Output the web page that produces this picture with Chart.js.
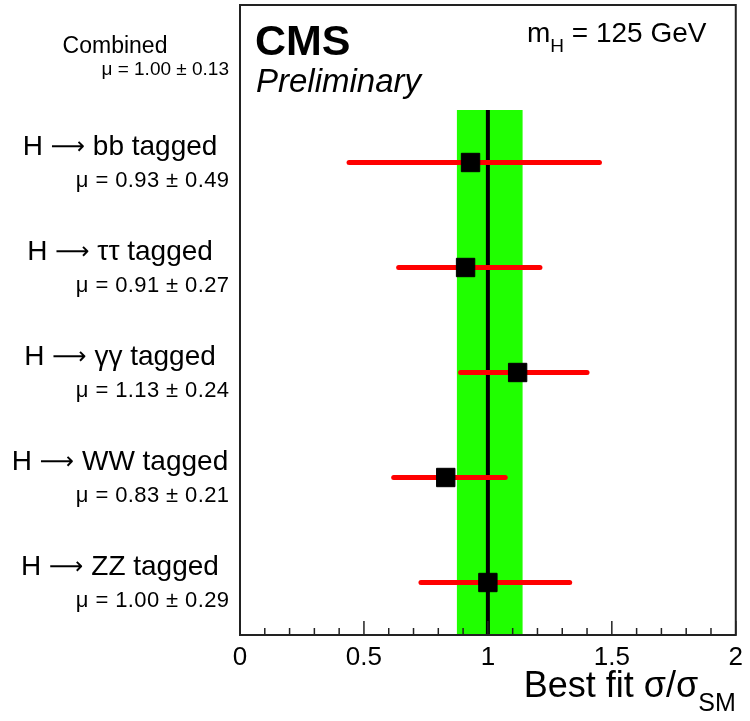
<!DOCTYPE html>
<html>
<head>
<meta charset="utf-8">
<script src="https://cdn.jsdelivr.net/npm/chart.js@4"></script>
<style>
  html, body { margin: 0; padding: 0; background: #fff; }
  #wrap { width: 750px; height: 721px; }
</style>
</head>
<body>
<div id="wrap"><canvas id="chart" width="750" height="721"></canvas></div>
<script>
// channels, top to bottom
const channels = ['bb', '\u03c4\u03c4', '\u03b3\u03b3', 'WW', 'ZZ'];
const muLabels = ['\u03bc = 0.93 \u00b1 0.49', '\u03bc = 0.91 \u00b1 0.27', '\u03bc = 1.13 \u00b1 0.24', '\u03bc = 0.83 \u00b1 0.21', '\u03bc = 1.00 \u00b1 0.29'];
const bestFit = [0.93, 0.91, 1.12, 0.83, 1.00];
const errLo = [0.44, 0.64, 0.89, 0.62, 0.73];
const errHi = [1.45, 1.21, 1.40, 1.07, 1.33];

// combined result (green band)
const combinedLabel = 'Combined';
const combinedMu = '\u03bc = 1.00 \u00b1 0.13';
const combinedValue = 1.00;
const combinedLo = 0.875;
const combinedHi = 1.14;

const xTickLabels = ['0', '0.5', '1', '1.5', '2'];

const FONT = "'Liberation Sans', Arial, Helvetica, sans-serif";
const ARROW_FONT = "'DejaVu Sans', sans-serif";
const nRows = channels.length + 1;

function rowY(i) {
    return channels.length - i - 0.5;
}

// pieces: [text, size, dy, style, family]
function piecesWidth(ctx, pieces) {
    let w = 0;
    pieces.forEach(p => {
        ctx.font = (p[3] || '') + ' ' + p[1] + 'px ' + (p[4] || FONT);
        w += ctx.measureText(p[0]).width;
    });
    return w;
}

function drawPieces(ctx, x, y, pieces) {
    let cx = x;
    pieces.forEach(p => {
        ctx.font = (p[3] || '') + ' ' + p[1] + 'px ' + (p[4] || FONT);
        ctx.fillText(p[0], cx, y + (p[2] || 0));
        cx += ctx.measureText(p[0]).width;
    });
    return cx;
}

const cmsPlugin = {
    id: 'cms',
    beforeDatasetsDraw(chart) {
        const ctx = chart.ctx;
        const xs = chart.scales.x;
        const ys = chart.scales.y;
        ctx.save();
        // combined band
        ctx.fillStyle = '#20ff00';
        const bx0 = xs.getPixelForValue(combinedLo);
        const bx1 = xs.getPixelForValue(combinedHi);
        const by0 = ys.getPixelForValue(nRows - 1);
        const by1 = ys.getPixelForValue(0);
        ctx.fillRect(bx0, by0, bx1 - bx0, by1 - by0);
        // SM line
        ctx.strokeStyle = '#000';
        ctx.lineWidth = 4;
        ctx.beginPath();
        ctx.moveTo(xs.getPixelForValue(combinedValue), by0);
        ctx.lineTo(xs.getPixelForValue(combinedValue), by1);
        ctx.stroke();
        // error bars
        ctx.strokeStyle = '#ff0000';
        ctx.lineWidth = 5;
        ctx.lineCap = 'round';
        channels.forEach((c, i) => {
            const y = ys.getPixelForValue(rowY(i));
            ctx.beginPath();
            ctx.moveTo(xs.getPixelForValue(errLo[i]), y);
            ctx.lineTo(xs.getPixelForValue(errHi[i]), y);
            ctx.stroke();
        });
        ctx.restore();
    },
    afterDraw(chart) {
        const ctx = chart.ctx;
        const xs = chart.scales.x;
        const ys = chart.scales.y;
        const a = chart.chartArea;
        ctx.save();
        // frame
        ctx.strokeStyle = '#222';
        ctx.lineWidth = 2;
        ctx.strokeRect(a.left, a.top, a.right - a.left, a.bottom - a.top);
        // inward ticks
        ctx.lineWidth = 1.5;
        xs.ticks.forEach(t => {
            const major = Math.abs(t.value * 2 - Math.round(t.value * 2)) < 1e-6;
            const px = xs.getPixelForValue(t.value);
            ctx.beginPath();
            ctx.moveTo(px, a.bottom);
            ctx.lineTo(px, a.bottom - (major ? 14 : 7));
            ctx.stroke();
        });

        ctx.fillStyle = '#000';
        ctx.textBaseline = 'alphabetic';
        ctx.textAlign = 'left';
        // row labels
        channels.forEach((c, i) => {
            const y = ys.getPixelForValue(rowY(i));
            const pieces = [['H ', 28, 0], ['\u27f6', 24, -1, '', ARROW_FONT], [' ' + c + ' tagged', 28, 0]];
            const w = piecesWidth(ctx, pieces);
            drawPieces(ctx, 120 - w / 2, y - 7.5, pieces);
            ctx.font = '22px ' + FONT;
            ctx.letterSpacing = '0.4px';
            ctx.textAlign = 'right';
            ctx.fillText(muLabels[i], 229.5, y + 24);
            ctx.textAlign = 'left';
            ctx.letterSpacing = '0px';
        });
        const cy = ys.getPixelForValue(nRows - 0.5);
        ctx.textAlign = 'center';
        ctx.font = '23px ' + FONT;
        ctx.fillText(combinedLabel, 115, cy - 4.5);
        ctx.textAlign = 'right';
        ctx.font = '19px ' + FONT;
        ctx.fillText(combinedMu, 229, cy + 17.5);

        // CMS labels
        ctx.textAlign = 'left';
        ctx.font = 'bold 43px ' + FONT;
        ctx.fillText('CMS', a.left + 15, 55);
        ctx.font = 'italic 33px ' + FONT;
        ctx.fillText('Preliminary', a.left + 16, 92);
        drawPieces(ctx, 527, 42, [['m', 28, 0], ['H', 19, 10], [' = 125 GeV', 28, 0]]);

        // axis title
        const title = [['Best fit \u03c3/\u03c3', 36, 0], ['SM', 25, 14]];
        drawPieces(ctx, a.right - piecesWidth(ctx, title), 697, title);
        ctx.restore();
    }
};

new Chart(document.getElementById('chart'), {
    type: 'scatter',
    data: {
        datasets: [{
            data: bestFit.map((v, i) => ({ x: v, y: rowY(i) })),
            pointStyle: 'rect',
            pointRadius: 13,
            backgroundColor: '#000',
            borderColor: '#000',
            borderWidth: 1
        }]
    },
    options: {
        responsive: false,
        animation: false,
        layout: { autoPadding: false, padding: { left: 240, right: 13, top: 5, bottom: 0 } },
        scales: {
            x: {
                type: 'linear',
                min: 0,
                max: 2,
                grid: { display: false, drawTicks: false, tickLength: 0 },
                border: { display: false },
                ticks: {
                    stepSize: 0.1,
                    autoSkip: false,
                    maxRotation: 0,
                    padding: 7,
                    color: '#000',
                    font: { family: FONT, size: 26 },
                    callback: function (v) {
                        const k = v * 2;
                        if (Math.abs(k - Math.round(k)) < 1e-6) return xTickLabels[Math.round(k)];
                        return '';
                    }
                },
                afterFit: function (scale) { scale.height = 86; }
            },
            y: {
                type: 'linear',
                min: 0,
                max: nRows,
                display: false
            }
        },
        plugins: {
            legend: { display: false },
            tooltip: { enabled: false }
        }
    },
    plugins: [cmsPlugin]
});
</script>
</body>
</html>
